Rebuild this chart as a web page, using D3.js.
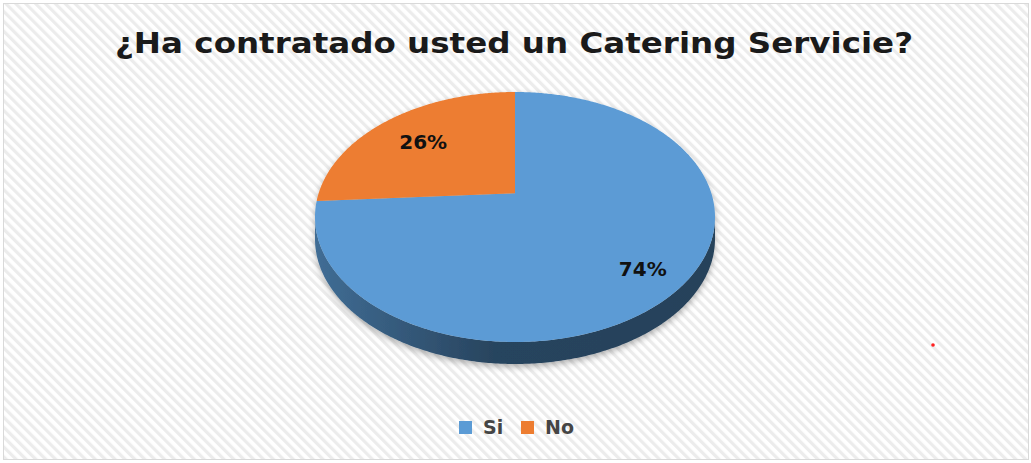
<!DOCTYPE html>
<html>
<head>
<meta charset="utf-8">
<script src="https://cdn.jsdelivr.net/npm/d3@7"></script>
<style>
  html, body { margin: 0; padding: 0; background: #fff; }
  svg { display: block; }
</style>
</head>
<body>
<svg id="chart" width="1031" height="463"></svg>
<script>
// ---- data ----
const categories = ["Si", "No"];
const values = [74, 26];
const percentLabels = ["74%", "26%"];
const sliceColors = ["#5B9BD5", "#ED7D31"];
const titleText = "¿Ha contratado usted un Catering Servicie?";

// ---- layout ----
const W = 1031, H = 463;
const FONT = "'DejaVu Sans', Verdana, sans-serif";
const svg = d3.select("#chart");
const defs = svg.append("defs");

// diagonal hatch background
const pat = defs.append("pattern")
  .attr("id", "hatch")
  .attr("patternUnits", "userSpaceOnUse")
  .attr("width", 7).attr("height", 7)
  .attr("patternTransform", "rotate(-45)");
pat.append("rect").attr("width", 7).attr("height", 7).attr("fill", "#ffffff");
pat.append("rect").attr("width", 3.2).attr("height", 7).attr("fill", "#ececec");

svg.append("rect").attr("width", W).attr("height", H).attr("fill", "#fff");
svg.append("rect")
  .attr("x", 3.5).attr("y", 3.5)
  .attr("width", 1025).attr("height", 456)
  .attr("fill", "url(#hatch)")
  .attr("stroke", "#d9d9d9").attr("stroke-width", 1);

// title
svg.append("text")
  .attr("x", 514).attr("y", 53)
  .attr("text-anchor", "middle")
  .attr("font-family", FONT)
  .attr("font-weight", "bold")
  .attr("font-size", 29)
  .attr("fill", "#1a1a1a")
  .attr("textLength", 798)
  .attr("lengthAdjust", "spacingAndGlyphs")
  .text(titleText);

// ---- 3D pie ----
const cx = 515, cy = 217, rx = 200, ry = 125;
const tilt = -0.19;      // perspective shift of the pie centre
const depth = 22;        // thickness of the pie

// project a point on the unit disc (angle clockwise from 12 o'clock, radius k)
function project(theta, k) {
  const u = k * Math.sin(theta);
  const v = -k * Math.cos(theta);
  const d = 1 + tilt * v;
  return [
    cx + rx * u * Math.sqrt(1 - tilt * tilt) / d,
    cy + ry * (v + tilt) / d
  ];
}

function arcPoints(a0, a1, k, dy) {
  const n = Math.max(2, Math.ceil(Math.abs(a1 - a0) / 0.01));
  return d3.range(n + 1).map(i => {
    const p = project(a0 + (a1 - a0) * i / n, k);
    return [p[0], p[1] + dy];
  });
}

const pie = d3.pie().sort(null).value(d => d.value);
const arcs = pie(categories.map((c, i) => ({ cat: c, value: values[i], color: sliceColors[i], label: percentLabels[i] })));

const line = d3.line();

// shadow
const sh = defs.append("filter").attr("id", "pieShadow")
  .attr("x", "-10%").attr("y", "-10%").attr("width", "120%").attr("height", "130%");
sh.append("feDropShadow")
  .attr("dx", 0).attr("dy", 3).attr("stdDeviation", 3)
  .attr("flood-color", "#000").attr("flood-opacity", 0.3);

const g = svg.append("g").attr("filter", "url(#pieShadow)");

// visible front range of the rim
const frontStart = Math.acos(tilt);
const frontEnd = 2 * Math.PI - frontStart;

// side walls
arcs.forEach((a, i) => {
  const s = Math.max(a.startAngle, frontStart);
  const e = Math.min(a.endAngle, frontEnd);
  if (e <= s) return;
  const base = d3.color(a.data.color);
  const gid = "side" + i;
  const grad = defs.append("linearGradient").attr("id", gid)
    .attr("gradientUnits", "userSpaceOnUse")
    .attr("x1", cx - rx).attr("x2", cx + rx).attr("y1", 0).attr("y2", 0);
  grad.append("stop").attr("offset", 0).attr("stop-color", base.darker(1.0));
  grad.append("stop").attr("offset", 0.45).attr("stop-color", base.darker(2.3));
  grad.append("stop").attr("offset", 1).attr("stop-color", base.darker(2.4));
  const pts = arcPoints(s, e, 1, 0).concat(arcPoints(e, s, 1, depth));
  g.append("path")
    .attr("d", line(pts) + "Z")
    .attr("fill", `url(#${gid})`);
});

// top faces
arcs.forEach(a => {
  const pts = [project(0, 0)].concat(arcPoints(a.startAngle, a.endAngle, 1, 0));
  g.append("path")
    .attr("d", line(pts) + "Z")
    .attr("fill", a.data.color);
});

// percentage labels
const labelRadius = { Si: 0.8, No: 0.7 };
arcs.forEach(a => {
  const mid = (a.startAngle + a.endAngle) / 2;
  const p = project(mid, labelRadius[a.data.cat]);
  svg.append("text")
    .attr("x", p[0]).attr("y", p[1] + 2)
    .attr("text-anchor", "middle")
    .attr("dominant-baseline", "central")
    .attr("font-family", FONT)
    .attr("font-weight", "bold")
    .attr("font-size", 20)
    .attr("fill", "#111")
    .text(a.data.label);
});

// legend
const legendX = [459, 521];
const legend = svg.append("g");
categories.forEach((c, i) => {
  legend.append("rect")
    .attr("x", legendX[i]).attr("y", 421)
    .attr("width", 13).attr("height", 13)
    .attr("fill", sliceColors[i]);
  legend.append("text")
    .attr("x", legendX[i] + 24).attr("y", 434)
    .attr("font-family", FONT)
    .attr("font-weight", "bold")
    .attr("font-size", 19)
    .attr("fill", "#454545")
    .text(c);
});

// small red mark at right
svg.append("circle").attr("cx", 933).attr("cy", 345).attr("r", 1.8).attr("fill", "#ff2020");
</script>
</body>
</html>
